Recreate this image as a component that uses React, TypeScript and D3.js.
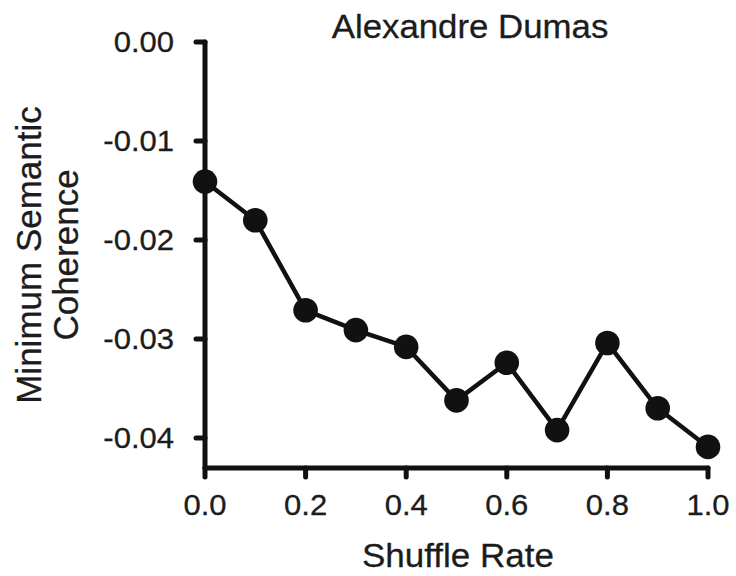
import React from "react";
import * as d3 from "d3";

const shuffleRates = [0.0, 0.1, 0.2, 0.3, 0.4, 0.5, 0.6, 0.7, 0.8, 0.9, 1.0];
const coherence = [-0.0141, -0.018, -0.0271, -0.0291, -0.0308, -0.0362, -0.0324, -0.0392, -0.0304, -0.037, -0.0409];
const xTicks = [0, 0.2, 0.4, 0.6, 0.8, 1.0];
const yTicks = [0, -0.01, -0.02, -0.03, -0.04];
const title = "Alexandre Dumas";
const xLabel = "Shuffle Rate";
const yLabelLines = ["Minimum Semantic", "Coherence"];

const W = 736;
const H = 576;
const FONT = "'Liberation Sans', Arial, Helvetica, sans-serif";
const INK = "#111";
const TEXT = "#1c1c1c";

export default function App() {
  const x = d3.scaleLinear().domain([0, 1]).range([205, 708]);
  const y = d3.scaleLinear().domain([0, -0.04]).range([42, 438]);
  const axisY = 468;
  const axisX = x(0);

  const line = d3
    .line<number>()
    .x((_, i) => x(shuffleRates[i]))
    .y((d) => y(d));

  const textProps = { fill: TEXT, stroke: TEXT, strokeWidth: 0.3 };

  return (
    <svg
      width={W}
      height={H}
      style={{ position: "absolute", left: 0, top: 0, background: "#fff" }}
      fontFamily={FONT}
    >
      <rect x={0} y={0} width={W} height={H} fill="#fff" />
      {/* axes */}
      <line x1={axisX} x2={axisX} y1={y(0)} y2={axisY} stroke={INK} strokeWidth={5} strokeLinecap="round" />
      <line x1={axisX} x2={x(1)} y1={axisY} y2={axisY} stroke={INK} strokeWidth={5} strokeLinecap="round" />
      {yTicks.map((t) => (
        <g key={"y" + t}>
          <line x1={axisX - 9} x2={axisX} y1={y(t)} y2={y(t)} stroke={INK} strokeWidth={5} strokeLinecap="round" />
          <text
            transform={`translate(174,${y(t)}) scale(1.07,1)`}
            dy="0.36em"
            textAnchor="end"
            fontSize={29}
            {...textProps}
          >
            {d3.format(".2f")(t).replace("−", "-")}
          </text>
        </g>
      ))}
      {xTicks.map((t) => (
        <g key={"x" + t}>
          <line x1={x(t)} x2={x(t)} y1={axisY} y2={axisY + 9} stroke={INK} strokeWidth={5} strokeLinecap="round" />
          <text
            transform={`translate(${x(t)},515) scale(1.07,1)`}
            textAnchor="middle"
            fontSize={29}
            {...textProps}
          >
            {d3.format(".1f")(t)}
          </text>
        </g>
      ))}
      {/* data */}
      <path d={line(coherence) || ""} fill="none" stroke={INK} strokeWidth={4.5} strokeLinejoin="round" />
      {coherence.map((v, i) => (
        <circle key={i} cx={x(shuffleRates[i])} cy={y(v)} r={12.3} fill={INK} />
      ))}
      {/* labels */}
      <text transform="translate(470,38) scale(1.055,1)" textAnchor="middle" fontSize={33} {...textProps}>
        {title}
      </text>
      <text transform="translate(458,567) scale(1.03,1)" textAnchor="middle" fontSize={34} {...textProps}>
        {xLabel}
      </text>
      {yLabelLines.map((s, i) => (
        <text
          key={s}
          transform={`translate(${41 + i * 37},255) rotate(-90)`}
          textAnchor="middle"
          fontSize={35}
          {...textProps}
        >
          {s}
        </text>
      ))}
    </svg>
  );
}
